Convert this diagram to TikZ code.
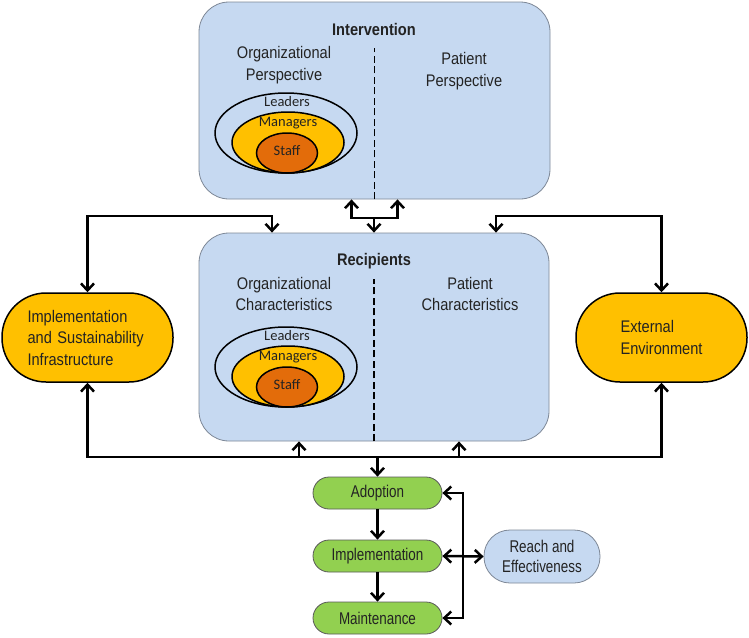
\documentclass[tikz,border=0pt]{standalone}
\usepackage{fontspec}
\setmainfont{Liberation Sans}[FakeStretch=0.87]
\newfontfamily\narrowfont{Liberation Sans}[FakeStretch=0.79]
\newfontfamily\calibfont{Carlito}
\usetikzlibrary{positioning,calc,arrows.meta}

\definecolor{boxblue}{RGB}{198,217,241}
\definecolor{boxedge}{RGB}{125,135,150}
\definecolor{amber}{RGB}{255,192,0}
\definecolor{staffred}{RGB}{227,108,10}
\definecolor{leafgreen}{RGB}{146,208,80}
\definecolor{ink}{RGB}{35,35,35}

\begin{document}
\begin{tikzpicture}[x=1pt,y=-1pt,
    >={Straight Barb[length=7pt,width=13pt]},
    conn/.style={line width=2.5pt},
    divider/.style={line width=1.4pt,dash pattern=on 7pt off 3.5pt},
    panel/.style={draw=boxedge,fill=boxblue,rounded corners=30pt,line width=0.8pt},
    pill/.style={draw=black,fill=amber,line width=1.5pt,rounded corners=44pt,minimum width=171pt,minimum height=89pt,font=\fontsize{16.8}{21.5}\selectfont,text=ink},
    stage/.style={draw=black!65,fill=leafgreen,line width=0.8pt,rounded corners=16pt,minimum width=129pt,minimum height=32pt,font=\narrowfont\fontsize{17}{20}\selectfont,text=ink},
    txt/.style={font=\fontsize{16.8}{21.5}\selectfont,text=ink,align=center},
    headline/.style={font=\bfseries\fontsize{16.8}{21.5}\selectfont,text=ink},
    ring/.style={font=\calibfont\fontsize{14.5}{17}\selectfont,text=ink}
]
\useasboundingbox (0,0) rectangle (749,637);

% Panels
\node[panel,minimum width=351pt,minimum height=197pt] (interv) at (374.5,100.5) {};
\node[panel,minimum width=350pt,minimum height=208pt] (recip) at (374,337) {};
\draw[divider] (interv.south) -- ++(0,-151);
\draw[divider] (recip.south) -- ++(0,-162);

% Panel texts
\node[headline] (intervT) at (374,29) {Intervention};
\node[txt] (orgP) at (284,65) {Organizational\\Perspective};
\node[txt] (patP) at (464,71) {Patient\\Perspective};
\node[headline] (recipT) at (374,261) {Recipients};
\node[txt] (orgC) at (284,294) {Organizational\\Characteristics};
\node[txt] (patC) at (470,294) {Patient\\Characteristics};

% Leaders, managers, staff
\foreach \b in {173,407} {
    \draw[line width=1.5pt] (286,\b-40) ellipse [x radius=71, y radius=40];
    \draw[line width=1.5pt,fill=amber] (288,\b-30.5) ellipse [x radius=56, y radius=30.5];
    \draw[line width=1.5pt,fill=staffred] (287,\b-20) ellipse [x radius=30.5, y radius=20];
    \node[ring] (lead\b) at (287,\b-71) {Leaders};
    \node[ring] (mgr\b) at (288,\b-50) {Managers};
    \node[ring] (staff\b) at (287,\b-22) {Staff};
}

% Side factors
\node[pill,text width=120pt,align=left] (infra) at (87.5,337.5) {Implementation\\and Sustainability\\Infrastructure};
\node[pill,text width=82pt,align=left] (env) at (661.5,337.5) {External\\Environment};

% Outcomes
\node[stage] (adopt) at (377.5,493) {Adoption};
\node[stage] (impl) at (377.5,556) {Implementation};
\node[stage] (maint) at (377.5,618) {Maintenance};
\node[draw=boxedge,fill=boxblue,line width=0.8pt,rounded corners=26pt,minimum width=116pt,minimum height=53pt,align=center,font=\narrowfont\fontsize{17}{20}\selectfont,text=ink] (reach) at (542,556.5) {Reach and\\Effectiveness};

% Connectors
\coordinate (splitI) at (374,218);
\coordinate (topL) at (272,216);
\coordinate (topR) at (496,216);
\coordinate (busY) at (0,457);
\coordinate (raX) at (463,0);

\draw[conn,->] (splitI) -| ([xshift=-23pt]interv.south);
\draw[conn,->] (splitI) -| ([xshift=23pt]interv.south);
\draw[conn,->] (splitI) -- (recip.north);
\draw[conn,<->] (infra.north) |- (topL) -- (topL |- recip.north);
\draw[conn,<->] (env.north) |- (topR) -- (topR |- recip.north);
\draw[conn,<->] (infra.south) -- (infra.south |- busY) -- (env.south |- busY) -- (env.south);
\draw[conn,->] ([xshift=-75pt]recip.south |- busY) -- ([xshift=-75pt]recip.south);
\draw[conn,->] ([xshift=85pt]recip.south |- busY) -- ([xshift=85pt]recip.south);
\draw[conn,->] (adopt.north |- busY) -- (adopt.north);
\draw[conn,->] (adopt) -- (impl);
\draw[conn,->] (impl) -- (maint);
\draw[conn,<->] (adopt.east) -- (adopt.east -| raX) -- (maint.east -| raX) -- (maint.east);
\draw[conn,<->] (impl.east) -- (reach.west);

\end{tikzpicture}
\end{document}
